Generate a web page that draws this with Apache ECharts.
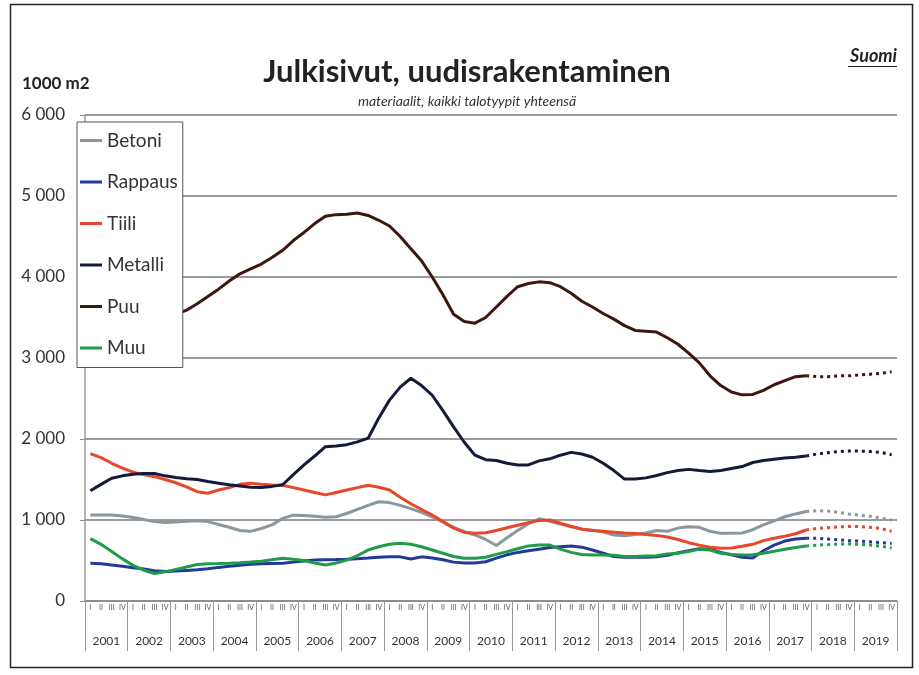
<!DOCTYPE html>
<html lang="fi">
<head>
<meta charset="UTF-8">
<title>Julkisivut, uudisrakentaminen</title>
<script src="https://cdn.jsdelivr.net/npm/echarts@6/dist/echarts.min.js"></script>
<style>
  html, body { margin: 0; padding: 0; background: #fff; }
  #chart { width: 919px; height: 675px; }
</style>
</head>
<body>
<div id="chart"></div>
<script>
// vuodet ja neljännekset
const years = ['2001','2002','2003','2004','2005','2006','2007','2008','2009','2010',
  '2011','2012','2013','2014','2015','2016','2017','2018','2019'];
const quarters = ['I', 'II', 'III', 'IV'];
const yTicks = [0, 1000, 2000, 3000, 4000, 5000, 6000];

// toteutuneet 2001 I - 2017 IV (68 neljännestä)
const betoni = [1062,1062,1062,1050, 1030,1005,980,968, 975,985,990,980, 945,910,870,860,
  895,940,1020,1060, 1055,1045,1035,1040, 1080,1130,1180,1225, 1215,1180,1140,1095,
  1040,975,910,855, 815,760,685,780, 870,955,1015,985, 950,920,890,875,
  850,815,805,820, 840,870,860,900, 917,910,860,835, 835,840,880,940, 990,1040,1075,1105];
const rappaus = [465,460,445,430, 410,395,375,365, 370,378,385,398, 415,428,440,455,
  460,463,466,480, 495,505,510,512, 515,522,530,540, 547,545,518,545,
  530,510,480,468, 470,485,530,570, 600,620,640,660, 670,678,665,630,
  590,550,539,539, 540,545,565,595, 620,645,640,600, 570,540,530,620, 690,740,765,775];
const tiili = [1820,1770,1700,1640, 1590,1560,1535,1500, 1460,1410,1350,1330, 1370,1400,1440,1455,
  1440,1432,1430,1400, 1370,1340,1310,1340, 1370,1400,1430,1405, 1370,1280,1200,1130,
  1060,980,900,850, 835,842,870,905, 935,965,995,1000, 960,920,885,870,
  860,850,840,832, 820,810,790,760, 720,690,665,650, 655,675,700,745, 775,800,830,877];
const metalli = [1360,1440,1515,1545, 1565,1575,1575,1545, 1525,1510,1500,1475, 1455,1435,1420,1405,
  1400,1415,1435,1560, 1680,1790,1905,1915, 1930,1965,2010,2260, 2480,2640,2750,2660,
  2540,2350,2150,1960, 1800,1745,1735,1700, 1680,1680,1730,1755, 1800,1835,1815,1775,
  1700,1610,1505,1505, 1520,1550,1585,1610, 1625,1610,1600,1610, 1635,1660,1710,1735, 1750,1765,1775,1790];
const puu = [2950,3050,3150,3250, 3320,3380,3440,3490, 3540,3590,3670,3760, 3850,3950,4040,4100,
  4160,4240,4330,4450, 4550,4660,4750,4770, 4775,4790,4760,4700, 4630,4500,4350,4200,
  4000,3780,3540,3450, 3430,3500,3630,3760, 3880,3920,3940,3930, 3880,3800,3700,3630,
  3550,3480,3400,3340, 3330,3320,3250,3170, 3060,2940,2780,2660, 2580,2545,2550,2600, 2670,2720,2770,2780];
const muu = [770,700,610,520, 440,380,340,360, 390,420,450,460, 462,465,472,480,
  490,510,527,515, 500,470,445,470, 505,560,630,670, 700,712,700,670,
  630,590,550,527, 527,540,575,610, 645,680,690,690, 640,600,575,568,
  568,565,550,550, 555,558,580,590, 610,640,630,590, 575,568,570,590, 615,640,660,679];

// ennuste 2018 I - 2019 IV
const betoniEnnuste = [1115,1110,1095,1075,1060,1045,1025,1000];
const rappausEnnuste = [775,765,755,745,740,730,720,710];
const tiiliEnnuste = [895,905,915,920,920,910,895,860];
const metalliEnnuste = [1815,1830,1845,1852,1850,1845,1835,1805];
const puuEnnuste = [2770,2770,2780,2780,2790,2800,2810,2830];
const muuEnnuste = [690,695,702,705,700,690,675,655];

const names = ['Betoni', 'Rappaus', 'Tiili', 'Metalli', 'Puu', 'Muu'];
const colors = ['#8a979f', '#24389a', '#e8472a', '#141b3a', '#3e1610', '#1f9c4b'];
const actual = [betoni, rappaus, tiili, metalli, puu, muu];
const forecast = [betoniEnnuste, rappausEnnuste, tiiliEnnuste, metalliEnnuste, puuEnnuste, muuEnnuste];

const qCats = [];
years.forEach(y => quarters.forEach(q => qCats.push(y + ' ' + q)));

const series = [];
names.forEach((n, k) => {
  series.push({
    name: n, type: 'line', data: actual[k], xAxisIndex: 0,
    symbol: 'none', color: colors[k],
    lineStyle: { width: 3, color: colors[k] }
  });
});
names.forEach((n, k) => {
  const d = actual[k].map(() => null);
  d[d.length - 1] = actual[k][actual[k].length - 1];
  series.push({
    name: n, type: 'line', data: d.concat(forecast[k]), xAxisIndex: 0,
    symbol: 'none', color: colors[k],
    lineStyle: { width: 3, type: [3, 4], color: colors[k] }
  });
});

const font = 'Lato, "Open Sans", sans-serif';
const chart = echarts.init(document.getElementById('chart'));
chart.setOption({
  animation: false,
  backgroundColor: '#fff',
  textStyle: { fontFamily: font },
  grid: { left: 85, right: 22, top: 115, bottom: 74 },
  legend: {
    orient: 'vertical', left: 77, top: 122,
    data: names,
    icon: 'path://M0,0H22V3H0Z',
    backgroundColor: '#fff', borderColor: '#555', borderWidth: 1,
    padding: [9, 5, 10, 3],
    itemWidth: 22, itemHeight: 14, itemGap: 22.5,
    textStyle: { fontSize: 19, color: '#333', fontFamily: font }
  },
  xAxis: [{
    type: 'category', data: qCats, boundaryGap: true,
    axisLine: { lineStyle: { color: '#8c8c8c', width: 1.5 } },
    axisTick: { show: false },
    axisLabel: {
      interval: 0, margin: 3, fontSize: 7, color: '#555',
      formatter: v => v.split(' ')[1]
    },
    splitLine: { show: false }
  }, {
    type: 'category', data: years, position: 'bottom', boundaryGap: true,
    axisLine: { show: false },
    axisTick: { show: true, length: 50, lineStyle: { color: '#9a9a9a', width: 1 } },
    axisLabel: { interval: 0, margin: 34, fontSize: 12, color: '#333' },
    splitLine: { show: false }
  }],
  yAxis: {
    type: 'value', min: yTicks[0], max: yTicks[yTicks.length - 1], interval: 1000,
    axisLine: { show: true, lineStyle: { color: '#9a9a9a', width: 1.5 } },
    axisTick: { show: true, length: 5, lineStyle: { color: '#8c8c8c' } },
    axisLabel: {
      margin: 20, fontSize: 17, color: '#333',
      formatter: v => v === 0 ? '0' : (v / 1000) + ' 000'
    },
    splitLine: { lineStyle: { color: '#7a7a7a', width: 1.5 } }
  },
  series: series,
  graphic: [
    { type: 'rect', shape: { x: 10.5, y: 4.5, width: 902, height: 663 },
      style: { fill: 'none', stroke: '#222', lineWidth: 1.5 }, z: -1 },
    { type: 'text', x: 467, y: 72,
      style: { text: 'Julkisivut, uudisrakentaminen', font: 'bold 31px ' + font,
        fill: '#222', textAlign: 'center', textVerticalAlign: 'middle' } },
    { type: 'text', x: 467, y: 101,
      style: { text: 'materiaalit, kaikki talotyypit yhteensä', font: 'italic 14px ' + font,
        fill: '#333', textAlign: 'center', textVerticalAlign: 'middle' } },
    { type: 'text', x: 22, y: 84,
      style: { text: '1000 m2', font: 'bold 17px ' + font, fill: '#222',
        textVerticalAlign: 'middle' } },
    { type: 'text', x: 897, y: 56,
      style: { text: 'Suomi', font: 'italic bold 18px ' + font, fill: '#222',
        textAlign: 'right', textVerticalAlign: 'middle' } },
    { type: 'line', shape: { x1: 848, y1: 66.5, x2: 897, y2: 66.5 },
      style: { stroke: '#222', lineWidth: 1.2 } }
  ]
});
</script>
</body>
</html>
